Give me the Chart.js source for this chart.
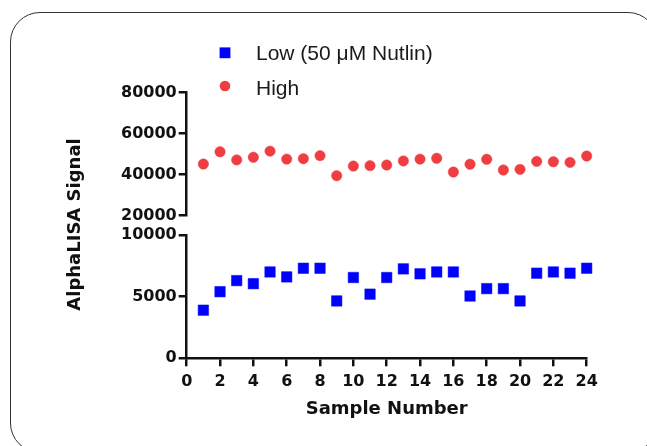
<!DOCTYPE html>
<html>
<head>
<meta charset="utf-8">
<script src="https://cdn.jsdelivr.net/npm/chart.js@4.4.1/dist/chart.umd.min.js"></script>
<style>
html, body { margin: 0; padding: 0; background: #fff; }
#wrap { position: relative; width: 647px; height: 446px; overflow: hidden; }
#frame { position: absolute; left: 10px; top: 12px; width: 648px; height: 441px; border: 1.5px solid #333; border-radius: 30px; box-sizing: border-box; }
canvas { position: absolute; left: 0; top: 0; }
</style>
</head>
<body>
<div id="wrap">
  <div id="frame"></div>
  <canvas id="chart" width="647" height="446"></canvas>
</div>
<script>
// data
const samples = [1, 2, 3, 4, 5, 6, 7, 8, 9, 10, 11, 12, 13, 14, 15, 16, 17, 18, 19, 20, 21, 22, 23, 24];
const lowSignal = [3900, 5400, 6300, 6050, 7000, 6600, 7300, 7300, 4650, 6550, 5200, 6550,
                   7250, 6850, 7000, 7000, 5050, 5650, 5650, 4650, 6900, 7000, 6900, 7300];
const highSignal = [45200, 51200, 47200, 48500, 51500, 47600, 47800, 49300, 39500, 44200, 44400, 44700,
                    46700, 47600, 48000, 41300, 45100, 47500, 42300, 42600, 46500, 46300, 46000, 49100];
const xTicks = [0, 2, 4, 6, 8, 10, 12, 14, 16, 18, 20, 22, 24];
const topTicks = [20000, 40000, 60000, 80000];
const bottomTicks = [0, 5000, 10000];
const seriesNames = ['Low (50 \u03BCM Nutlin)', 'High'];

const INK = '#111';
const tickFont = { family: 'DejaVu Sans', size: 16, weight: 'bold' };
const AXIS_W = 186.7; // width of the left axis column

// legend + y title drawn by hand (the built-in legend can't stack rows at the top)
const extras = {
    id: 'extras',
    afterDraw(chart) {
        const ctx = chart.ctx;
        const area = chart.chartArea;
        ctx.save();
        ctx.fillStyle = INK;
        ctx.font = 'bold 18px "DejaVu Sans"';
        ctx.textAlign = 'center';
        ctx.textBaseline = 'middle';
        ctx.translate(75, (area.top + area.bottom) / 2 - 1);
        ctx.rotate(-Math.PI / 2);
        ctx.fillText('AlphaLISA Signal', 0, 0);
        ctx.restore();

        ctx.save();
        ctx.font = '21px "Liberation Sans"';
        ctx.textBaseline = 'alphabetic';
        ctx.textAlign = 'left';
        chart.data.datasets.forEach((ds, i) => {
            const cy = i === 0 ? 52.8 : 86;
            ctx.fillStyle = ds.backgroundColor;
            if (ds.pointStyle === 'rect') {
                ctx.fillRect(225 - 5.4, cy - 5.4, 10.8, 10.8);
            } else {
                ctx.beginPath();
                ctx.arc(225, cy, 5.3, 0, Math.PI * 2);
                ctx.fill();
            }
            ctx.fillStyle = '#1a1a1a';
            ctx.fillText(ds.label, 256, cy + 7.5 + (i === 0 ? 0 : 1.5));
        });
        ctx.restore();
    }
};

const ticksFrom = arr => s => { s.ticks = arr.map(v => ({ value: v })); };

function yScale(ticks, min, max, weight, stackWeight) {
    return {
        type: 'linear',
        position: 'left',
        stack: 'signal',
        stackWeight: stackWeight,
        weight: weight,
        min: min,
        max: max,
        afterBuildTicks: ticksFrom(ticks),
        afterFit: s => { s.width = AXIS_W; },
        border: { color: INK, width: 2.5 },
        grid: { drawOnChartArea: false, color: INK, lineWidth: 2.5, tickLength: 8 },
        ticks: { font: tickFont, color: INK, padding: 2, callback: v => String(v) }
    };
}

new Chart(document.getElementById('chart'), {
    type: 'scatter',
    data: {
        datasets: [{
            label: seriesNames[0],
            data: samples.map((s, i) => ({ x: s, y: lowSignal[i] })),
            yAxisID: 'yBot',
            pointStyle: 'rect',
            pointRadius: 7.4,
            pointBorderWidth: 0.5,
            backgroundColor: '#0000FF',
            borderColor: '#0000FF',
            clip: false
        }, {
            label: seriesNames[1],
            data: samples.map((s, i) => ({ x: s, y: highSignal[i] })),
            yAxisID: 'yTop',
            pointStyle: 'circle',
            pointRadius: 5.2,
            pointBorderWidth: 0.5,
            backgroundColor: '#EF3D42',
            borderColor: '#EF3D42',
            clip: false
        }]
    },
    options: {
        responsive: false,
        animation: false,
        layout: { padding: { top: 92.7, right: 60.3, bottom: 10, left: 0 } },
        plugins: { legend: { display: false }, tooltip: { enabled: false } },
        scales: {
            x: {
                type: 'linear',
                position: 'bottom',
                min: 0,
                max: 24,
                afterBuildTicks: ticksFrom(xTicks),
                afterFit: s => { s.height = 446 - 358.3 - 10; },
                border: { color: INK, width: 2.5 },
                grid: { drawOnChartArea: false, color: INK, lineWidth: 2.5, tickLength: 8 },
                ticks: { font: tickFont, color: INK, padding: 6, maxRotation: 0, autoSkip: false },
                title: {
                    display: true,
                    text: 'Sample Number',
                    color: INK,
                    font: { family: 'DejaVu Sans', size: 18, weight: 'bold' },
                    padding: { top: 0, bottom: 16 }
                }
            },
            yTop: yScale(topTicks, 20000, 80000, 3, 6.37),
            yGap: {
                type: 'linear',
                position: 'left',
                stack: 'signal',
                stackWeight: 1,
                weight: 2,
                afterFit: s => { s.width = AXIS_W; },
                border: { display: false },
                grid: { display: false },
                ticks: { display: false }
            },
            yBot: yScale(bottomTicks, 0, 10000, 1, 6.39)
        }
    },
    plugins: [extras]
});
</script>
</body>
</html>
